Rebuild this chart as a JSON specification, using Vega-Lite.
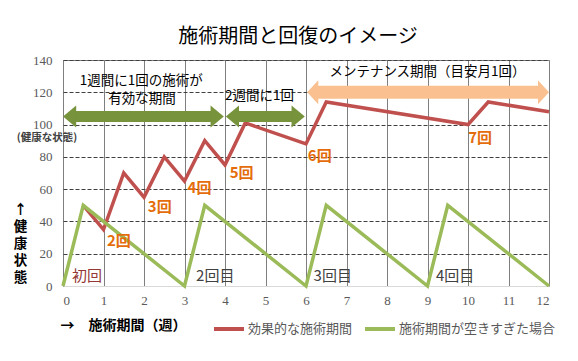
{
  "$schema": "https://vega.github.io/schema/vega-lite/v6.json",
  "width": 486,
  "height": 226,
  "autosize": {"type": "none"},
  "padding": {"left": 63, "top": 60, "right": 29, "bottom": 75},
  "background": "white",
  "title": {
    "text": "施術期間と回復のイメージ",
    "font": "Noto Sans CJK JP",
    "fontSize": 20,
    "fontWeight": "normal",
    "color": "#000000",
    "anchor": "middle",
    "offset": 7,
    "dx": -8
  },
  "config": {
    "font": "Noto Sans CJK JP",
    "view": {"stroke": "#7f7f7f", "strokeWidth": 1}
  },
  "datasets": {
    "lines": [
      {"week": 0.5, "health": 50, "series": "効果的な施術期間"},
      {"week": 1, "health": 35, "series": "効果的な施術期間"},
      {"week": 1.5, "health": 70, "series": "効果的な施術期間"},
      {"week": 2, "health": 55, "series": "効果的な施術期間"},
      {"week": 2.5, "health": 80, "series": "効果的な施術期間"},
      {"week": 3, "health": 65, "series": "効果的な施術期間"},
      {"week": 3.5, "health": 90, "series": "効果的な施術期間"},
      {"week": 4, "health": 75, "series": "効果的な施術期間"},
      {"week": 4.5, "health": 101, "series": "効果的な施術期間"},
      {"week": 6, "health": 88, "series": "効果的な施術期間"},
      {"week": 6.5, "health": 114, "series": "効果的な施術期間"},
      {"week": 10, "health": 100, "series": "効果的な施術期間"},
      {"week": 10.5, "health": 114, "series": "効果的な施術期間"},
      {"week": 12, "health": 108, "series": "効果的な施術期間"},
      {"week": 0, "health": 0, "series": "施術期間が空きすぎた場合"},
      {"week": 0.5, "health": 50, "series": "施術期間が空きすぎた場合"},
      {"week": 3, "health": 0, "series": "施術期間が空きすぎた場合"},
      {"week": 3.5, "health": 50, "series": "施術期間が空きすぎた場合"},
      {"week": 6, "health": 0, "series": "施術期間が空きすぎた場合"},
      {"week": 6.5, "health": 50, "series": "施術期間が空きすぎた場合"},
      {"week": 9, "health": 0, "series": "施術期間が空きすぎた場合"},
      {"week": 9.5, "health": 50, "series": "施術期間が空きすぎた場合"},
      {"week": 12, "health": 0, "series": "施術期間が空きすぎた場合"}
    ],
    "greenBodies": [
      {"week": 0.28, "week2": 3.69, "health": 105},
      {"week": 4.3, "week2": 5.69, "health": 105}
    ],
    "greenHeads": [
      {"week": 0, "health": 105, "dir": "left"},
      {"week": 3.97, "health": 105, "dir": "right"},
      {"week": 4.02, "health": 105, "dir": "left"},
      {"week": 5.97, "health": 105, "dir": "right"}
    ],
    "peachBodies": [
      {"week": 6.27, "week2": 11.76, "health": 120}
    ],
    "peachHeads": [
      {"week": 6.03, "health": 120, "dir": "left"},
      {"week": 12, "health": 120, "dir": "right"}
    ],
    "orangeNotes": [
      {"week": 1.38, "health": 28, "text": "2回"},
      {"week": 2.39, "health": 49, "text": "3回"},
      {"week": 3.37, "health": 61, "text": "4回"},
      {"week": 4.41, "health": 70, "text": "5回"},
      {"week": 6.34, "health": 80.5, "text": "6回"},
      {"week": 10.3, "health": 91.5, "text": "7回"}
    ],
    "grayNotes": [
      {"week": 3.76, "health": 6, "text": "2回目"},
      {"week": 6.66, "health": 6, "text": "3回目"},
      {"week": 9.68, "health": 6, "text": "4回目"}
    ],
    "firstNote": [
      {"week": 0.59, "health": 6, "text": "初回"}
    ],
    "blackNotes": [
      {"week": 1.93, "health": 127.2, "text": "1週間に1回の施術が"},
      {"week": 1.95, "health": 116, "text": "有効な期間"},
      {"week": 4.85, "health": 118, "text": "2週間に1回"},
      {"week": 9.0, "health": 132.8, "text": "メンテナンス期間（目安月1回）"}
    ],
    "healthyNote": [
      {"week": 0, "health": 100, "text": "(健康な状態)"}
    ]
  },
  "encoding": {
    "x": {
      "field": "week",
      "type": "quantitative",
      "scale": {"domain": [0, 12], "nice": false, "zero": false},
      "axis": {
        "values": [0, 1, 2, 3, 4, 5, 6, 7, 8, 9, 10, 11, 12],
        "grid": true,
        "gridColor": "#7f7f7f",
        "gridWidth": 1,
        "ticks": false,
        "domain": true,
        "domainColor": "#d9d9d9",
        "labelOverlap": false,
        "labelFont": "Liberation Serif",
        "labelFontSize": 13,
        "labelColor": "#595959",
        "labelPadding": 8,
        "title": "→　施術期間（週）",
        "titleFont": "Noto Sans CJK JP",
        "titleFontSize": 14,
        "titleFontWeight": "bold",
        "titleColor": "#000000",
        "titleAlign": "left",
        "titleBaseline": "middle",
        "titleX": -3,
        "titleY": 39
      }
    },
    "y": {
      "field": "health",
      "type": "quantitative",
      "scale": {"domain": [0, 140], "nice": false},
      "axis": {
        "values": [0, 20, 40, 60, 80, 100, 120, 140],
        "grid": true,
        "gridColor": "#404040",
        "gridDash": [4, 2],
        "gridWidth": 1,
        "ticks": false,
        "domain": false,
        "labelOverlap": false,
        "labelFont": "Liberation Serif",
        "labelFontSize": 13,
        "labelColor": "#595959",
        "labelPadding": 11,
        "title": ["↑", "健", "康", "状", "態"],
        "titleFont": "Noto Sans CJK JP",
        "titleFontSize": 13.5,
        "titleFontWeight": "bold",
        "titleColor": "#000000",
        "titleAngle": 0,
        "titleAlign": "center",
        "titleBaseline": "top",
        "titleLineHeight": 17,
        "titleX": -43,
        "titleY": 142
      }
    }
  },
  "layer": [
    {
      "data": {"name": "lines"},
      "transform": [{"filter": "datum.series == '効果的な施術期間'"}],
      "mark": {"type": "line", "strokeWidth": 3.5, "strokeJoin": "miter"},
      "encoding": {
        "color": {
          "field": "series",
          "type": "nominal",
          "scale": {
            "domain": ["効果的な施術期間", "施術期間が空きすぎた場合"],
            "range": ["#c0504d", "#9bbb59"]
          },
          "legend": {
            "orient": "none",
            "legendX": 149,
            "legendY": 252,
            "direction": "horizontal",
            "title": null,
            "symbolType": "stroke",
            "symbolSize": 900,
            "symbolStrokeWidth": 4,
            "labelFont": "Noto Sans CJK JP",
            "labelFontSize": 13,
            "labelColor": "#595959",
            "labelOffset": 2,
            "columnPadding": 4,
            "labelLimit": 300
          }
        }
      }
    },
    {
      "data": {"name": "lines"},
      "transform": [{"filter": "datum.series == '施術期間が空きすぎた場合'"}],
      "mark": {"type": "line", "strokeWidth": 3.5, "strokeJoin": "miter"},
      "encoding": {
        "color": {"field": "series", "type": "nominal"}
      }
    },
    {
      "data": {"name": "greenBodies"},
      "mark": {"type": "rule", "color": "#77933c", "strokeWidth": 11, "strokeCap": "butt"},
      "encoding": {"x2": {"field": "week2"}}
    },
    {
      "data": {"name": "greenHeads"},
      "transform": [{"filter": "datum.dir == 'left'"}],
      "mark": {"type": "point", "filled": true, "opacity": 1, "color": "#77933c", "shape": "M0,0L1.2,-1L1.2,1Z", "size": 484},
      "encoding": {}
    },
    {
      "data": {"name": "greenHeads"},
      "transform": [{"filter": "datum.dir == 'right'"}],
      "mark": {"type": "point", "filled": true, "opacity": 1, "color": "#77933c", "shape": "M0,0L-1.2,-1L-1.2,1Z", "size": 484},
      "encoding": {}
    },
    {
      "data": {"name": "peachBodies"},
      "mark": {"type": "rule", "color": "#fac090", "strokeWidth": 13, "strokeCap": "butt"},
      "encoding": {"x2": {"field": "week2"}}
    },
    {
      "data": {"name": "peachHeads"},
      "transform": [{"filter": "datum.dir == 'left'"}],
      "mark": {"type": "point", "filled": true, "opacity": 1, "color": "#fac090", "shape": "M0,0L0.92,-1L0.92,1Z", "size": 576},
      "encoding": {}
    },
    {
      "data": {"name": "peachHeads"},
      "transform": [{"filter": "datum.dir == 'right'"}],
      "mark": {"type": "point", "filled": true, "opacity": 1, "color": "#fac090", "shape": "M0,0L-0.92,-1L-0.92,1Z", "size": 576},
      "encoding": {}
    },
    {
      "data": {"name": "orangeNotes"},
      "mark": {"type": "text", "color": "#e46c0a", "fontSize": 15, "fontWeight": "bold", "align": "center", "baseline": "middle"},
      "encoding": {"text": {"field": "text"}}
    },
    {
      "data": {"name": "grayNotes"},
      "mark": {"type": "text", "color": "#404040", "fontSize": 15, "align": "center", "baseline": "middle"},
      "encoding": {"text": {"field": "text"}}
    },
    {
      "data": {"name": "firstNote"},
      "mark": {"type": "text", "color": "#953735", "fontSize": 15, "align": "center", "baseline": "middle"},
      "encoding": {"text": {"field": "text"}}
    },
    {
      "data": {"name": "blackNotes"},
      "mark": {"type": "text", "color": "#000000", "fontSize": 13.5, "align": "center", "baseline": "middle"},
      "encoding": {"text": {"field": "text"}}
    },
    {
      "data": {"name": "healthyNote"},
      "mark": {"type": "text", "color": "#404040", "fontSize": 10.5, "fontWeight": "bold", "align": "center", "baseline": "middle", "dx": -16, "dy": 13},
      "encoding": {"text": {"field": "text"}}
    }
  ]
}
